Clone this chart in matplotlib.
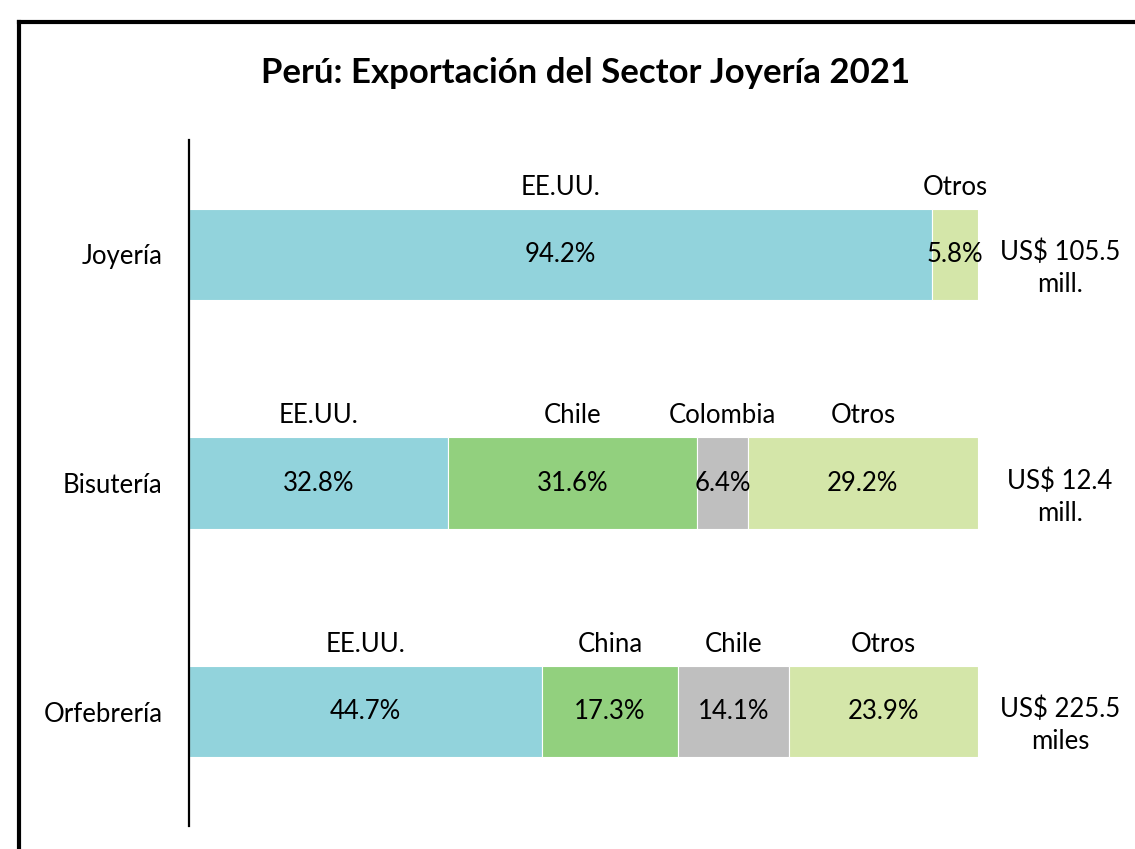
import matplotlib
matplotlib.use("Agg")
import matplotlib.pyplot as plt
from matplotlib.lines import Line2D

# ── Data ──────────────────────────────────────────────────────────────────────
categories = ["Joyería", "Bisutería", "Orfebrería"]
seg_names = [
    ["EE.UU.", "Otros"],
    ["EE.UU.", "Chile", "Colombia", "Otros"],
    ["EE.UU.", "China", "Chile", "Otros"],
]
seg_values = [
    [94.2, 5.8],
    [32.8, 31.6, 6.4, 29.2],
    [44.7, 17.3, 14.1, 23.9],
]
totals = ["US$ 105.5\nmill.", "US$ 12.4\nmill.", "US$ 225.5\nmiles"]

# ── Style ─────────────────────────────────────────────────────────────────────
C_USA   = "#92D3DC"
C_GREEN = "#92D07E"
C_GRAY  = "#BFBFBF"
C_OTROS = "#D4E6A9"
seg_colors = [
    [C_USA, C_OTROS],
    [C_USA, C_GREEN, C_GRAY, C_OTROS],
    [C_USA, C_GREEN, C_GRAY, C_OTROS],
]
FONT = "Lato"
FS = 18.5
plt.rcParams["font.family"] = [FONT, "DejaVu Sans"]

fig = plt.figure(figsize=(11.35, 8.49), dpi=100)
ax = fig.add_axes([0.1665, 0.027, 0.6952, 0.808])

bar_h = 0.4
for i, (names, vals, cols) in enumerate(zip(seg_names, seg_values, seg_colors)):
    left = 0
    for name, v, c in zip(names, vals, cols):
        ax.barh(i, v, left=left, height=bar_h, color=c, edgecolor="white", linewidth=0.8)
        cx = left + v / 2
        ax.text(cx, i, f"{v:.1f}%", ha="center", va="center", fontsize=FS)
        ax.text(cx, i - bar_h / 2 - 0.04, name, ha="center", va="bottom", fontsize=FS)
        left += v
    ax.text(110.4, i + 0.06, totals[i], ha="center", va="center", fontsize=FS,
            linespacing=1.35, clip_on=False)

ax.set_xlim(0, 100)
ax.set_ylim(2.5, -0.5)
ax.set_yticks(range(len(categories)))
ax.set_yticklabels(categories, fontsize=FS)
ax.tick_params(axis="y", length=0, pad=19)
ax.set_xticks([])
for s in ["top", "right", "bottom"]:
    ax.spines[s].set_visible(False)
ax.spines["left"].set_linewidth(1.6)

fig.text(0.516, 0.914, "Perú: Exportación del Sector Joyería 2021",
         ha="center", va="center", fontsize=25, fontweight="bold")

# chart frame (cropped on the right and bottom)
fx, fy = 19 / 1135, 1 - 21.5 / 849
fig.add_artist(Line2D([fx, fx], [0, fy], transform=fig.transFigure, color="black", lw=3))
fig.add_artist(Line2D([fx, 1], [fy, fy], transform=fig.transFigure, color="black", lw=3))

fig.savefig("out.png", dpi=100, facecolor="white")
